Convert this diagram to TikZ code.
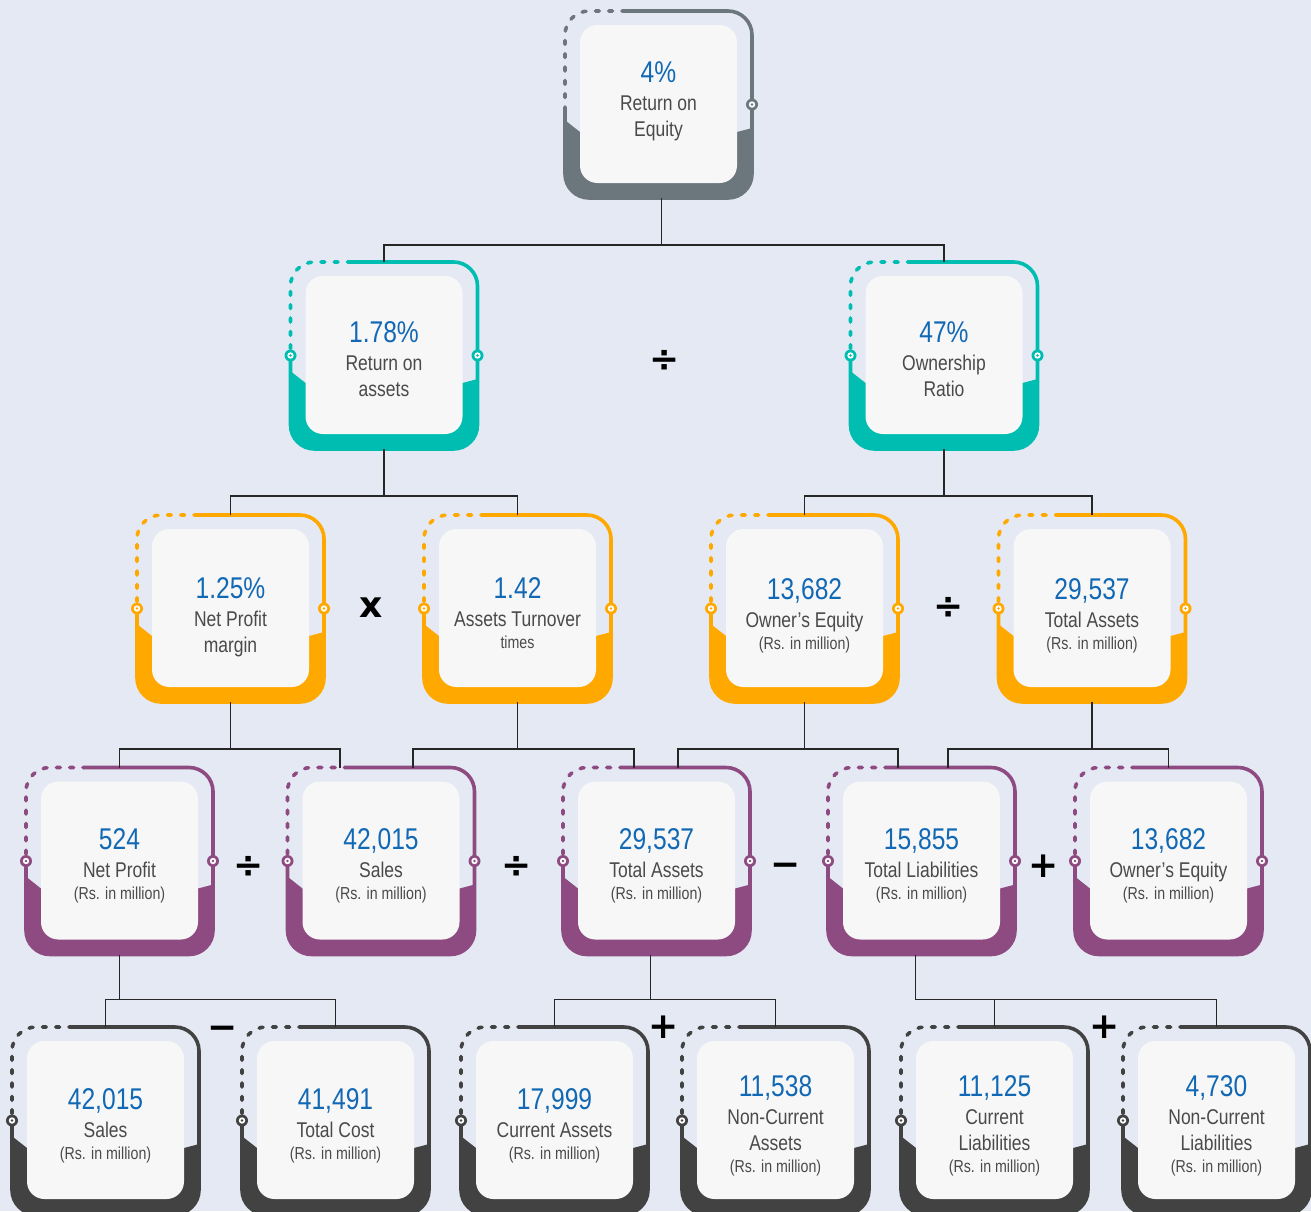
\documentclass[tikz,border=0pt]{standalone}
\usepackage{fontspec}
\setmainfont{Liberation Sans}[FakeStretch=0.82]
\newfontfamily\opfont{DejaVu Sans}
\usetikzlibrary{calc}

\definecolor{pagebg}{HTML}{E5E9F4}
\definecolor{panelbg}{HTML}{F7F7F7}
\definecolor{rimgray}{HTML}{6B777C}
\definecolor{rimteal}{HTML}{00BDB1}
\definecolor{rimorange}{HTML}{FFA900}
\definecolor{rimpurple}{HTML}{8E4B82}
\definecolor{rimdark}{HTML}{424242}
\definecolor{numblue}{HTML}{1168B4}
\definecolor{txtgray}{HTML}{4A4A4A}

\tikzset{
  cardbox/.style={rectangle, minimum width=140.25pt, minimum height=140.25pt, inner sep=0pt, outer sep=0pt},
  cardtext/.style={align=center, inner sep=0pt, text=txtgray, font=\fontsize{16}{19.5}\selectfont},
  rim/.style={line width=2.7pt, rounded corners=18pt},
  panel/.style={fill=panelbg, rounded corners=13pt},
  link/.style={line width=0.8pt, black!85},
  op/.style={inner sep=0pt, font=\opfont\bfseries\fontsize{27}{27}\selectfont},
}

% big blue figure on the first line of a card
\newcommand{\val}[1]{{\fontsize{22.5}{26}\selectfont\color{numblue}#1}\\[1.4pt]}
% small last line
\newcommand{\sml}[1]{\\[-3pt]{\fontsize{13}{15}\selectfont #1}}
\newcommand{\rsm}{\sml{(Rs. in million)}}

% one card: [text shift], name, centre, colour, marker sides, text
\newcommand{\card}[6][5]{%
  \node[cardbox] (#2) at (#3) {};
  \begin{scope}
    \clip ($(#2.north west)+(-4,106)$) -- ($(#2.north west)+(15,121)$) -- ($(#2.north east)+(-15,121)$) -- ($(#2.north east)+(4,116)$) -- ($(#2.south east)+(4,4)$) -- ($(#2.south west)+(-4,4)$) -- cycle;
    \fill[#4, rounded corners=18pt] (#2.north west) rectangle (#2.south east);
  \end{scope}
  \draw[rim, #4] ($(#2.north west)+(58,0)$) -- (#2.north east) -- (#2.south east) -- (#2.south west) -- ($(#2.north west)+(0,100)$);
  \draw[rim, #4, line cap=round, dash pattern=on 3pt off 7pt] ($(#2.north west)+(0,100)$) -- (#2.north west) -- ($(#2.north west)+(58,0)$);
  \fill[panel] ($(#2.north west)+(15,14)$) rectangle ($(#2.south east)+(-15,-15)$);
  \foreach \s in {#5} {
    \fill[#4] (#2.\s) circle[radius=6];
    \fill[white] (#2.\s) circle[radius=3.2];
    \fill[#4] (#2.\s) circle[radius=1.4];
  }
  \node[cardtext] (#2-txt) at ($(#2.center)+(0,#1)$) {#6};
}

\begin{document}
\begin{tikzpicture}[x=0.75pt,y=0.75pt,yscale=-1,xscale=1]
\fill[pagebg] (0,0) rectangle (1311,1211);
\useasboundingbox (0,0) rectangle (1311,1211);

% Level 0
\card[-3.5]{roe}{658.5,104.5}{rimgray}{east}{\val{4\%}Return on\\Equity}

% Level 1
\card[3.5]{roa}{384,355.5}{rimteal}{west,east}{\val{1.78\%}Return on\\assets}
\card[3.5]{own}{944,355.5}{rimteal}{west,east}{\val{47\%}Ownership\\Ratio}

% Level 2
\card[9]{npm}{230.5,608.5}{rimorange}{west,east}{\val{1.25\%}Net Profit\\margin}
\card[5]{ato}{517.5,608.5}{rimorange}{west,east}{\val{1.42}Assets Turnover\sml{times}}
\card[7]{oe1}{804.5,608.5}{rimorange}{west,east}{\val{13,682}Owner’s Equity\rsm}
\card[7]{ta1}{1092,608.5}{rimorange}{west,east}{\val{29,537}Total Assets\rsm}

% Level 3
\card{np}{119.5,861}{rimpurple}{west,east}{\val{524}Net Profit\rsm}
\card{sal1}{381,861}{rimpurple}{west,east}{\val{42,015}Sales\rsm}
\card{ta2}{656.5,861}{rimpurple}{west,east}{\val{29,537}Total Assets\rsm}
\card{tl}{921.5,861}{rimpurple}{west,east}{\val{15,855}Total Liabilities\rsm}
\card{oe2}{1168.5,861}{rimpurple}{west,east}{\val{13,682}Owner’s Equity\rsm}

% Level 4
\card{sal2}{105.5,1120.5}{rimdark}{west}{\val{42,015}Sales\rsm}
\card{tc}{335.5,1120.5}{rimdark}{west}{\val{41,491}Total Cost\rsm}
\card{ca}{554.5,1120.5}{rimdark}{west}{\val{17,999}Current Assets\rsm}
\card{nca}{775.5,1120.5}{rimdark}{west}{\val{11,538}Non-Current\\Assets\rsm}
\card{cl}{994.5,1120.5}{rimdark}{west}{\val{11,125}Current\\Liabilities\rsm}
\card{ncl}{1216.5,1120.5}{rimdark}{west}{\val{4,730}Non-Current\\Liabilities\rsm}

% Operators
\node[op] (div1) at (665,361) {÷};
\node[op] (times1) at (371,608) {x};
\node[op] (div2) at (949,608) {÷};
\node[op] (div3) at (249,867) {÷};
\node[op] (div4) at (517,867) {÷};
\node[op] (minus1) at (786,870) {−};
\node[op] (plus1) at (1044,866) {+};
\node[op] (minus2) at (223,1033) {−};
\node[op] (plus2) at (664,1027) {+};
\node[op] (plus3) at (1105,1027) {+};

% Connectors
\coordinate (j0) at ($(roe.south)+(3,47)$);
\draw[link] ($(roe.south)+(3,0)$) -- (j0);
\draw[link] (roa.north) |- (j0) -| (own.north);

\coordinate (j1) at ($(roa.south)+(0,47)$);
\draw[link] (roa.south) -- (j1);
\draw[link] (npm.north) |- (j1) -| (ato.north);
\coordinate (j2) at ($(own.south)+(0,47)$);
\draw[link] (own.south) -- (j2);
\draw[link] (oe1.north) |- (j2) -| (ta1.north);

\coordinate (sal1-a) at ($(sal1.north)+(-41,0)$);
\coordinate (sal1-b) at ($(sal1.north)+(32,0)$);
\coordinate (ta2-a) at ($(ta2.north)+(-22.5,0)$);
\coordinate (ta2-b) at ($(ta2.north)+(21.5,0)$);
\coordinate (tl-a) at ($(tl.north)+(-23.5,0)$);
\coordinate (tl-b) at ($(tl.north)+(26.5,0)$);
\coordinate (j3) at ($(npm.south)+(0,47)$);
\draw[link] (npm.south) -- (j3);
\draw[link] (np.north) |- (j3) -| (sal1-a);
\coordinate (j4) at ($(ato.south)+(0,47)$);
\draw[link] (ato.south) -- (j4);
\draw[link] (sal1-b) |- (j4) -| (ta2-a);
\coordinate (j5) at ($(oe1.south)+(0,47)$);
\draw[link] (oe1.south) -- (j5);
\draw[link] (ta2-b) |- (j5) -| (tl-a);
\coordinate (j6) at ($(ta1.south)+(0,47)$);
\draw[link] (ta1.south) -- (j6);
\draw[link] (tl-b) |- (j6) -| (oe2.north);

\coordinate (ta2-c) at ($(ta2.south)+(-6,0)$);
\coordinate (tl-c) at ($(tl.south)+(-6,0)$);
\coordinate (j7) at ($(np.south)+(0,45)$);
\draw[link] (np.south) -- (j7);
\draw[link] (sal2.north) |- (j7) -| (tc.north);
\coordinate (j8) at ($(ta2-c)+(0,45)$);
\draw[link] (ta2-c) -- (j8);
\draw[link] (ca.north) |- (j8) -| (nca.north);
\coordinate (j9) at ($(tl-c)+(0,45)$);
\draw[link] (tl-c) -- (j9);
\draw[link] (cl.north) |- (j9) -| (ncl.north);
\end{tikzpicture}
\end{document}
